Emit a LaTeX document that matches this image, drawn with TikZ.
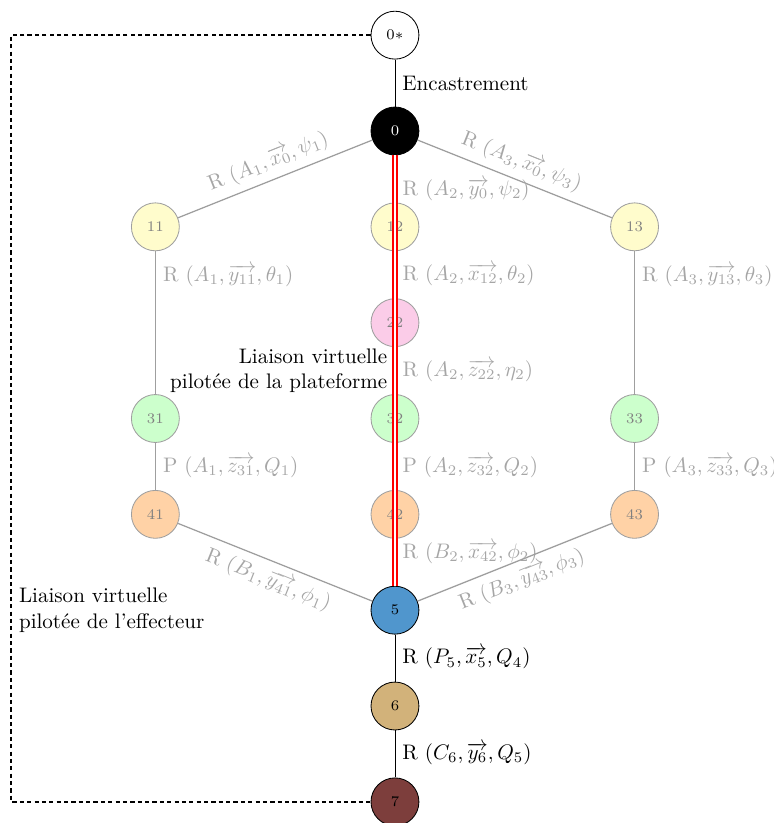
\documentclass[tikz,border=0pt]{standalone}
\usepackage{amsmath}
\definecolor{bleu5}{RGB}{80,150,205}
\definecolor{sable6}{RGB}{210,178,122}
\definecolor{brun7}{RGB}{125,62,60}
\tikzset{
  solide/.style={circle,draw=black,minimum size=0.8cm,inner sep=0pt,font=\scriptsize},
  fantome/.style={circle,draw=gray!75,text=gray,minimum size=0.8cm,inner sep=0pt,font=\scriptsize},
  lien/.style={draw=gray!75,semithick},
  lbl/.style={text=gray!70}
}
\begin{document}
\begin{tikzpicture}[>=latex]
    \def\dx{4}
    \def\dy{1.6}
    \useasboundingbox (-6.594,-11.553) rectangle (6.327,2.187);
    \node[solide] (0s) at (0,\dy) {$0*$};
    \node[solide,fill=black,text=white] (0) at (0,0) {0};
    \node[fantome,fill=yellow!20] (11) at (-\dx,-\dy) {11};
    \node[fantome,fill=yellow!20] (12) at (0,-\dy) {12};
    \node[fantome,fill=yellow!20] (13) at (\dx,-\dy) {13};
    \node[fantome,fill=magenta!20] (22) at (0,{-2*\dy}) {22};
    \node[fantome,fill=green!20] (31) at (-\dx,{-3*\dy}) {31};
    \node[fantome,fill=green!20] (32) at (0,{-3*\dy}) {32};
    \node[fantome,fill=green!20] (33) at (\dx,{-3*\dy}) {33};
    \node[fantome,fill=orange!35] (41) at (-\dx,{-4*\dy}) {41};
    \node[fantome,fill=orange!35] (42) at (0,{-4*\dy}) {42};
    \node[fantome,fill=orange!35] (43) at (\dx,{-4*\dy}) {43};
    \node[solide,fill=bleu5] (5) at (0,{-5*\dy}) {5};
    \node[solide,fill=sable6] (6) at (0,{-6*\dy}) {6};
    \node[solide,fill=brun7] (7) at (0,{-7*\dy}) {7};

    \draw (0s) -- node[right]{Encastrement} (0);
    \draw[lien] (11) -- node[lbl,sloped,above]{R $(A_1,\overrightarrow{x_0},\psi_1)$} (0);
    \draw[lien] (0) -- node[lbl,sloped,above]{R $(A_3,\overrightarrow{x_0},\psi_3)$} (13);
    \draw[lien] (0) -- node[lbl,right,pos=0.73]{R $(A_2,\overrightarrow{y_0},\psi_2)$} (12);
    \draw[lien] (11) -- node[lbl,right,pos=0.17]{R $(A_1,\overrightarrow{y_{11}},\theta_1)$} (31);
    \draw[lien] (12) -- node[lbl,right]{R $(A_2,\overrightarrow{x_{12}},\theta_2)$} (22);
    \draw[lien] (13) -- node[lbl,right,pos=0.17]{R $(A_3,\overrightarrow{y_{13}},\theta_3)$} (33);
    \draw[lien] (22) -- node[lbl,right]{R $(A_2,\overrightarrow{z_{22}},\eta_2)$} (32);
    \draw[lien] (31) -- node[lbl,right]{P $(A_1,\overrightarrow{z_{31}},Q_1)$} (41);
    \draw[lien] (32) -- node[lbl,right]{P $(A_2,\overrightarrow{z_{32}},Q_2)$} (42);
    \draw[lien] (33) -- node[lbl,right]{P $(A_3,\overrightarrow{z_{33}},Q_3)$} (43);
    \draw[lien] (41) -- node[lbl,sloped,below]{R $(B_1,\overrightarrow{y_{41}},\phi_1)$} (5);
    \draw[lien] (42) -- node[lbl,right,pos=0.3]{R $(B_2,\overrightarrow{x_{42}},\phi_2)$} (5);
    \draw[lien] (5) -- node[lbl,sloped,below]{R $(B_3,\overrightarrow{y_{43}},\phi_3)$} (43);
    \draw (5) -- node[right]{R $(P_5,\overrightarrow{x_5},Q_4)$} (6);
    \draw (6) -- node[right]{R $(C_6,\overrightarrow{y_6},Q_5)$} (7);

    \draw[draw=red,double=white,double distance=1.1pt,line width=0.7pt] (0) --
        node[left,align=right]{Liaison virtuelle\\pilotée de la plateforme} (5);
    \draw[dash pattern=on 2pt off 1.5pt,thick] (0s.west) -- ++(-6,0) |-
        node[pos=0.375,right,align=left]{Liaison virtuelle\\pilotée de l’effecteur} (7.west);
\end{tikzpicture}
\end{document}
